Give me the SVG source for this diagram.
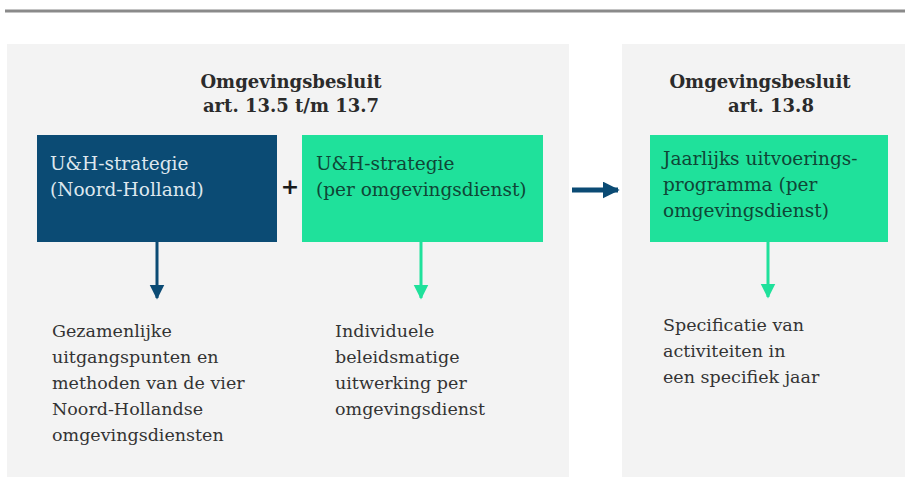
<svg xmlns="http://www.w3.org/2000/svg" width="905" height="491" viewBox="0 0 905 491">
<defs>
<style>
.t{font-family:"DejaVu Serif","Liberation Serif",serif;font-size:17.5px;}
.b{font-size:18.5px;}
.title{font-weight:bold;fill:#2b2b2b;font-size:18px;}
.desc{fill:#333333;}
.panel{fill:#f3f3f3;}
</style>
<marker id="hd" viewBox="0 0 10 10" refX="9" refY="5" markerWidth="5" markerHeight="6" orient="auto" markerUnits="strokeWidth"><path d="M0,0 L10,5 L0,10 Z" fill="#0b4b74"/></marker>
<marker id="hg" viewBox="0 0 10 10" refX="9" refY="5" markerWidth="5" markerHeight="6" orient="auto" markerUnits="strokeWidth"><path d="M0,0 L10,5 L0,10 Z" fill="#1fe19b"/></marker>
<marker id="hm" viewBox="0 0 10 10" refX="9" refY="5" markerWidth="3.4" markerHeight="3.4" orient="auto" markerUnits="strokeWidth"><path d="M0,0 L10,5 L0,10 Z" fill="#0b4b74"/></marker>
</defs>
<rect width="905" height="491" fill="#ffffff"/>
<line x1="5" y1="11" x2="905" y2="11" stroke="#8a8a8a" stroke-width="3"/>
<g id="panel-left"><rect class="panel" x="7" y="44" width="562" height="433"/>
<text class="t title" x="291" y="88" text-anchor="middle">Omgevingsbesluit</text>
<text class="t title" x="291" y="112" text-anchor="middle">art. 13.5 t/m 13.7</text></g>
<g id="panel-right"><rect class="panel" x="622" y="44" width="283" height="433"/>
<text class="t title" x="760" y="88" text-anchor="middle">Omgevingsbesluit</text>
<text class="t title" x="771" y="112" text-anchor="middle">art. 13.8</text></g>
<g id="node-nh"><rect x="37" y="135" width="240" height="107" fill="#0b4b74"/>
<text class="t b" fill="#dde7ee" x="50" y="170">U&amp;H-strategie</text>
<text class="t b" fill="#dde7ee" x="50" y="196">(Noord-Holland)</text></g>
<g id="plus"><text x="290" y="194" text-anchor="middle" style="font-family:'DejaVu Sans',sans-serif;font-size:22px;font-weight:bold;fill:#1a1a1a">+</text></g>
<g id="node-od"><rect x="302" y="135" width="241" height="107" fill="#1fe19b"/>
<text class="t b" fill="#0f4636" x="316" y="170">U&amp;H-strategie</text>
<text class="t b" fill="#0f4636" x="316" y="196">(per omgevingsdienst)</text></g>
<g id="node-jup"><rect x="650" y="135" width="238" height="107" fill="#1fe19b"/>
<text class="t b" fill="#0f4636" x="663" y="165">Jaarlijks uitvoerings-</text>
<text class="t b" fill="#0f4636" x="663" y="191">programma (per</text>
<text class="t b" fill="#0f4636" x="663" y="217">omgevingsdienst)</text></g>
<g id="desc-nh"><text class="t desc" x="52" y="337">Gezamenlijke</text>
<text class="t desc" x="52" y="363">uitgangspunten en</text>
<text class="t desc" x="52" y="389">methoden van de vier</text>
<text class="t desc" x="52" y="415">Noord-Hollandse</text>
<text class="t desc" x="52" y="441">omgevingsdiensten</text></g>
<g id="desc-od"><text class="t desc" x="335" y="337">Individuele</text>
<text class="t desc" x="335" y="363">beleidsmatige</text>
<text class="t desc" x="335" y="389">uitwerking per</text>
<text class="t desc" x="335" y="415">omgevingsdienst</text></g>
<g id="desc-jup"><text class="t desc" x="663" y="331">Specificatie van</text>
<text class="t desc" x="663" y="357">activiteiten in</text>
<text class="t desc" x="663" y="383">een specifiek jaar</text></g>
<g id="connectors">
<line x1="157" y1="242" x2="157" y2="298" stroke="#0b4b74" stroke-width="3" marker-end="url(#hd)"/>
<line x1="421" y1="242" x2="421" y2="298" stroke="#1fe19b" stroke-width="3" marker-end="url(#hg)"/>
<line x1="768" y1="242" x2="768" y2="297" stroke="#1fe19b" stroke-width="3" marker-end="url(#hg)"/>
<line x1="572" y1="190" x2="618" y2="190" stroke="#0b4b74" stroke-width="5" marker-end="url(#hm)"/>
</g>
</svg>
